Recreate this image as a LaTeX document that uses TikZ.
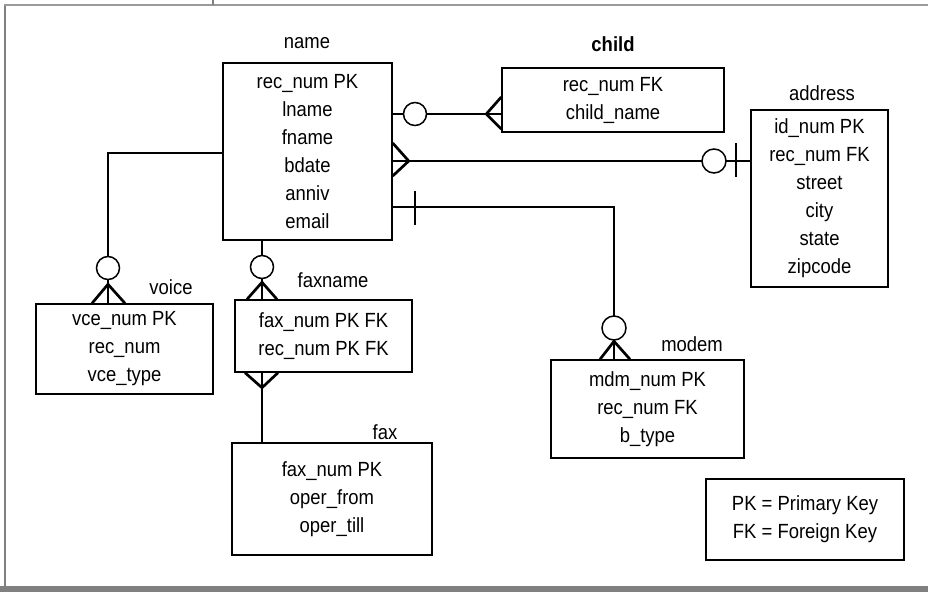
\documentclass[tikz,border=0pt]{standalone}
\usepackage{fontspec}
\setmainfont[FakeStretch=0.9]{Liberation Sans}
\usetikzlibrary{calc}
\definecolor{cKhung}{HTML}{808080}
\definecolor{cKhungNhat}{HTML}{9A9A9A}
\def\cochu{\fontsize{20.5}{28}\selectfont}

\begin{document}
\begin{tikzpicture}[x=1pt, y=-1pt,
  bang/.style={
    draw, line width=1.4pt, align=center, inner sep=0pt, font=\cochu
  },
  nhan/.style={inner sep=0pt, font=\cochu},
  lienket/.style={line width=2.7pt},
  vong/.style={
    draw, circle, line width=1.5pt, fill=white, inner sep=0pt, minimum size=23pt
  }
]
\useasboundingbox (0,0) rectangle (928,592);

% -- khung ngoai --
\fill[cKhung] (0,586) rectangle (928,592);
\draw[cKhung, line width=2.6pt] (5,4) -- (5,587);
\draw[cKhungNhat, line width=2pt] (4,5) -- (928,5);
\draw[cKhung, line width=1.2pt] (213,0) -- (213,5);

% -- cac bang --
\node[bang, minimum width=169, minimum height=177] (name) at (307.5,151.5)
  {rec\_num PK\\lname\\fname\\bdate\\anniv\\email};
\node[bang, minimum width=222, minimum height=64] (child) at (613,100)
  {rec\_num FK\\child\_name};
\node[bang, minimum width=137, minimum height=177] (address) at (819.5,198.5)
  {id\_num PK\\rec\_num FK\\street\\city\\state\\zipcode};
\node[bang, minimum width=177, minimum height=90] (voice) at (124.5,349)
  {vce\_num PK\\rec\_num\\vce\_type};
\node[bang, minimum width=177, minimum height=72] (faxname) at (323.5,336)
  {fax\_num PK FK\\rec\_num PK FK};
\node[bang, minimum width=200, minimum height=112] (fax) at (332,499)
  {fax\_num PK\\oper\_from\\oper\_till};
\node[bang, minimum width=193, minimum height=98] (modem) at (647.5,409)
  {mdm\_num PK\\rec\_num FK\\b\_type};
\node[bang, minimum width=198, minimum height=81] (chuthich) at (805,519.5)
  {PK = Primary Key\\FK = Foreign Key};

% -- ten bang --
\node[nhan] (tName) at (307,43) {name};
\node[nhan, font=\cochu\bfseries] (tChild) at (613,44) {child};
\node[nhan] (tAddress) at (822,93) {address};
\node[nhan] (tVoice) at (171,287) {voice};
\node[nhan] (tFaxname) at (333,280) {faxname};
\node[nhan] (tFax) at (385,432) {fax};
\node[nhan] (tModem) at (692,344) {modem};

% -- duong noi --
\coordinate (hChild) at (0,114);
\coordinate (hAddr)  at (0,161);
\coordinate (hModem) at (0,207);
\coordinate (hVoice) at (0,153);
\coordinate (vVoice) at (108,0);
\coordinate (vFax)   at (262,0);
\coordinate (vModem) at (614,0);

\draw[lienket] (name.east |- hChild) -- (child.west |- hChild);
\draw[lienket] (name.east |- hAddr) -- (address.west |- hAddr);
\draw[lienket] (name.east |- hModem) -| (modem.north -| vModem);
\draw[lienket] (name.west |- hVoice) -| (voice.north -| vVoice);
\draw[lienket] (name.south -| vFax) -- (faxname.north -| vFax);
\draw[lienket] (faxname.south -| vFax) -- (fax.north -| vFax);

% -- chan ga (nhieu) --
\draw[lienket] ($(child.west |- hChild)+(0,-17)$) -- ($(child.west |- hChild)+(-15,0)$)
  -- ($(child.west |- hChild)+(0,15)$);
\draw[lienket] ($(name.east |- hAddr)+(0,-18)$) -- ($(name.east |- hAddr)+(16,0)$)
  -- ($(name.east |- hAddr)+(0,15)$);
\draw[lienket] ($(voice.north -| vVoice)+(-16,0)$) -- ($(voice.north -| vVoice)+(0,-19)$)
  -- ($(voice.north -| vVoice)+(17,0)$);
\draw[lienket] ($(faxname.north -| vFax)+(-15,0)$) -- ($(faxname.north -| vFax)+(0,-17)$)
  -- ($(faxname.north -| vFax)+(15,0)$);
\draw[lienket] ($(faxname.south -| vFax)+(-17,0)$) -- ($(faxname.south -| vFax)+(0,15)$)
  -- ($(faxname.south -| vFax)+(16,0)$);
\draw[lienket] ($(modem.north -| vModem)+(-14,0)$) -- ($(modem.north -| vModem)+(0,-18)$)
  -- ($(modem.north -| vModem)+(16,0)$);

% -- gach (mot) --
\draw[lienket] (415,191) -- (415,225);
\draw[lienket] (736,143) -- (736,177);

% -- vong (khong) --
\node[vong] (oChild) at (415,114) {};
\node[vong, minimum size=24pt] (oAddr) at (714,161) {};
\node[vong] (oVoice) at (108,268) {};
\node[vong] (oFax) at (262,267) {};
\node[vong, minimum size=24pt] (oModem) at (614,328) {};

\end{tikzpicture}
\end{document}
